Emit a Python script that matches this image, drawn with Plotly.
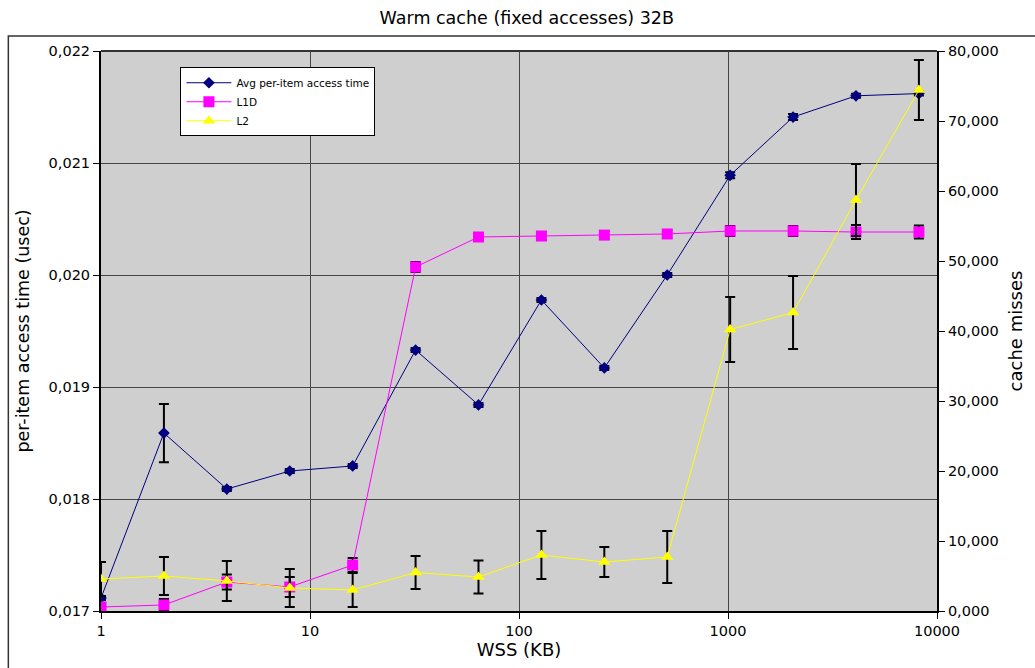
import plotly.graph_objects as go

# Working-set sizes (KB)
wss_kb = [1, 2, 4, 8, 16, 32, 64, 128, 256, 512, 1024, 2048, 4096, 8192]

# Average per-item access time (usec) and its spread
avg_time = [0.017116, 0.018589, 0.018089, 0.01825, 0.018295, 0.01933, 0.01884,
            0.019777, 0.01917, 0.0200, 0.02089, 0.02141, 0.02160, 0.02162]
avg_time_err = [0.000018, 0.00026, 0.000018, 0.000018, 0.000018, 0.000018, 0.000018,
                0.000018, 0.000018, 0.000018, 0.000027, 0.000027, 0.000018, 0.000018]

# Cache misses per level and their spread
l1d_misses = [570, 860, 4140, 3430, 6570, 49140, 53430, 53570, 53700, 53860,
              54290, 54290, 54140, 54140]
l1d_err = [430, 860, 1070, 1430, 1000, 710, 570, 570, 570, 570, 710, 710, 1000, 930]

l2_misses = [4570, 5000, 4290, 3290, 3000, 5500, 4860, 8000, 7000, 7710,
             40210, 42640, 58710, 74430]
l2_err = [2430, 2710, 2860, 2710, 2430, 2360, 2360, 3430, 2140, 3710,
          4640, 5210, 5140, 4290]

# Axis ticks
x_ticks = [1, 10, 100, 1000, 10000]
x_tick_text = ["1", "10", "100", "1000", "10000"]
left_ticks = [0.017, 0.018, 0.019, 0.020, 0.021, 0.022]
left_tick_text = ["0,017", "0,018", "0,019", "0,020", "0,021", "0,022"]
right_ticks = [0, 10000, 20000, 30000, 40000, 50000, 60000, 70000, 80000]
right_tick_text = ["0,000", "10,000", "20,000", "30,000", "40,000",
                   "50,000", "60,000", "70,000", "80,000"]

FONT = "DejaVu Sans"
GRID = "#454545"


def err(values):
    return dict(type="data", array=values, visible=True,
                color="black", thickness=2, width=5)


fig = go.Figure()

fig.add_trace(go.Scatter(
    x=wss_kb, y=avg_time, name="Avg per-item access time",
    mode="lines+markers", yaxis="y",
    line=dict(color="#000080", width=1),
    marker=dict(symbol="diamond", size=9, color="#000080"),
    error_y=err(avg_time_err),
))
fig.add_trace(go.Scatter(
    x=wss_kb, y=l1d_misses, name="L1D",
    mode="lines+markers", yaxis="y2",
    line=dict(color="#ff00ff", width=1),
    marker=dict(symbol="square", size=11, color="#ff00ff"),
    error_y=err(l1d_err),
))
fig.add_trace(go.Scatter(
    x=wss_kb, y=l2_misses, name="L2",
    mode="lines+markers", yaxis="y2",
    line=dict(color="#ffff00", width=1),
    marker=dict(symbol="triangle-up", size=11, color="#ffff00"),
    error_y=err(l2_err),
))

fig.update_layout(
    width=1035, height=668,
    margin=dict(l=101, r=95, t=51, b=57),
    paper_bgcolor="white",
    plot_bgcolor="#cfcfcf",
    font=dict(family=FONT, size=14.5, color="black"),
    title=dict(text="Warm cache (fixed accesses) 32B", x=0.509, xref="container",
               xanchor="center", y=0.973, yref="container", yanchor="middle",
               font=dict(size=17.5)),
    showlegend=True,
    legend=dict(x=0.095, y=0.971, xanchor="left", yanchor="top",
                bgcolor="white", bordercolor="black", borderwidth=1,
                font=dict(size=10.5), tracegroupgap=0, itemwidth=45),
    xaxis=dict(
        type="log", range=[0, 4],
        tickvals=x_ticks, ticktext=x_tick_text,
        ticks="outside", ticklen=6, tickcolor="black",
        showgrid=True, gridcolor=GRID, gridwidth=1,
        showline=True, linecolor="black", linewidth=2, mirror=False,
        zeroline=False,
        title=dict(text="WSS (KB)", font=dict(size=18), standoff=4),
    ),
    yaxis=dict(
        range=[0.017, 0.022],
        tickvals=left_ticks, ticktext=left_tick_text,
        ticks="outside", ticklen=6, tickcolor="black",
        showgrid=True, gridcolor=GRID, gridwidth=1,
        showline=True, linecolor="black", linewidth=2,
        zeroline=False,
        title=dict(text="per-item access time (usec)", font=dict(size=17.5), standoff=14),
    ),
    yaxis2=dict(
        range=[0, 80000], overlaying="y", side="right",
        tickvals=right_ticks, ticktext=right_tick_text,
        ticks="outside", ticklen=6, tickcolor="black",
        showgrid=False,
        showline=True, linecolor="black", linewidth=2,
        zeroline=False,
        title=dict(text="cache misses", font=dict(size=18), standoff=12),
    ),
    shapes=[
        # top edge of the plot area
        dict(type="line", xref="paper", yref="paper", x0=0, x1=1, y0=1, y1=1,
             line=dict(color="#333333", width=2)),
        # outer chart frame
        dict(type="rect", xref="paper", yref="paper",
             x0=(8 - 101) / 839, x1=1.3, y0=-0.3, y1=(611 - 36) / 560,
             line=dict(color="#333333", width=1.5), layer="below"),
    ],
)

fig.write_html("out.html")
